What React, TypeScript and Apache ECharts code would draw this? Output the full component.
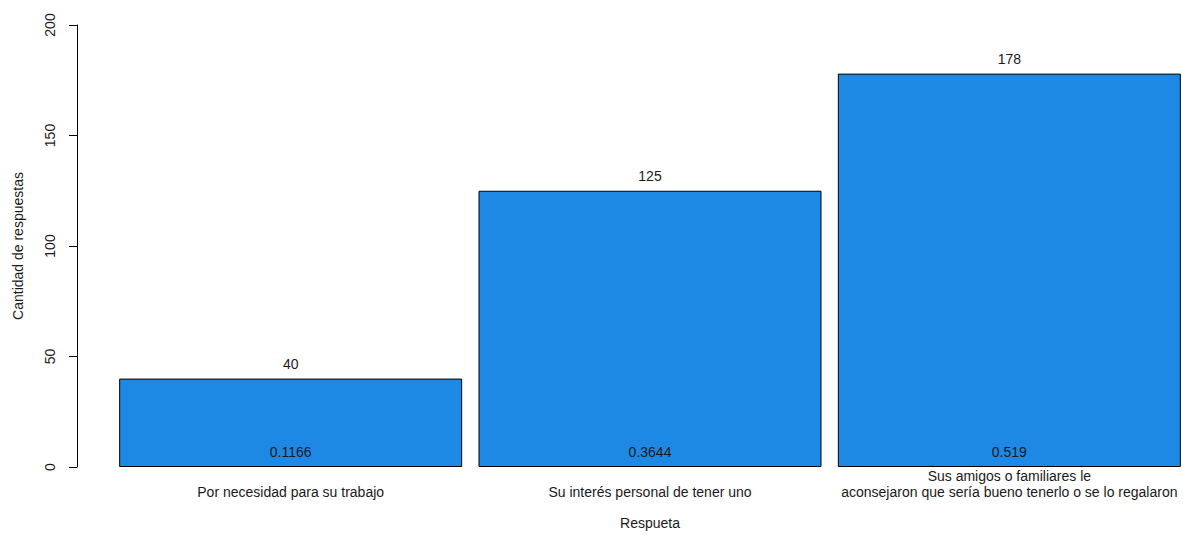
import React, { useEffect, useRef } from "react";
import * as echarts from "echarts";

const categories = [
  "Por necesidad para su trabajo",
  "Su interés personal de tener uno",
  "Sus amigos o familiares le\naconsejaron que sería bueno tenerlo o se lo regalaron",
];
const counts = [40, 125, 178];
const proportions = ["0.1166", "0.3644", "0.519"];
const yTicks = { min: 0, max: 200, interval: 50 };

const FONT = "'Liberation Sans', Arial, sans-serif";
const TXT = "#1a1a1a";
const FS = 14;

export default function App() {
  const ref = useRef<HTMLDivElement>(null);
  useEffect(() => {
    const chart = echarts.init(ref.current!, null, { renderer: "svg" });
    chart.setOption({
      animation: false,
      backgroundColor: "#ffffff",
      textStyle: { fontFamily: FONT },
      grid: { left: 111, top: 25, width: 1078, height: 444, containLabel: false },
      xAxis: {
        type: "category",
        data: categories,
        axisLine: { show: false },
        axisTick: { show: false },
        axisLabel: {
          interval: 0,
          fontFamily: FONT,
          fontSize: FS,
          color: TXT,
          lineHeight: 16,
          verticalAlign: "bottom",
          margin: 33,
        },
        name: "Respueta",
        nameLocation: "middle",
        nameGap: 49,
        nameTextStyle: { fontFamily: FONT, fontSize: FS, color: TXT },
      },
      yAxis: {
        type: "value",
        min: yTicks.min,
        max: yTicks.max,
        interval: yTicks.interval,
        offset: 34,
        splitLine: { show: false },
        axisLine: { show: true, lineStyle: { color: "#000", width: 1 } },
        axisTick: { show: true, length: 8, lineStyle: { color: "#000" } },
        axisLabel: {
          rotate: 90,
          fontFamily: FONT,
          fontSize: FS,
          color: TXT,
          margin: 20,
        },
        name: "Cantidad de respuestas",
        nameLocation: "middle",
        nameGap: 52,
        nameTextStyle: { fontFamily: FONT, fontSize: FS, color: TXT },
      },
      series: [
        {
          type: "bar",
          data: counts,
          barWidth: 343,
          itemStyle: { color: "#1E88E5", borderColor: "#000", borderWidth: 1 },
          label: {
            show: true,
            position: "top",
            distance: 8,
            fontFamily: FONT,
            fontSize: FS,
            color: TXT,
          },
        },
        {
          type: "bar",
          data: counts,
          barWidth: 343,
          barGap: "-100%",
          itemStyle: { color: "transparent", borderWidth: 0 },
          label: {
            show: true,
            position: "insideBottom",
            distance: 8,
            fontFamily: FONT,
            fontSize: FS,
            color: TXT,
            formatter: (p: any) => proportions[p.dataIndex],
          },
        },
      ],
    });
    return () => chart.dispose();
  }, []);
  return (
    <div
      style={{
        position: "absolute",
        left: 0,
        top: 0,
        width: 1183,
        height: 535,
        overflow: "hidden",
      }}
    >
      <div ref={ref} style={{ width: 1200, height: 535 }} />
    </div>
  );
}
